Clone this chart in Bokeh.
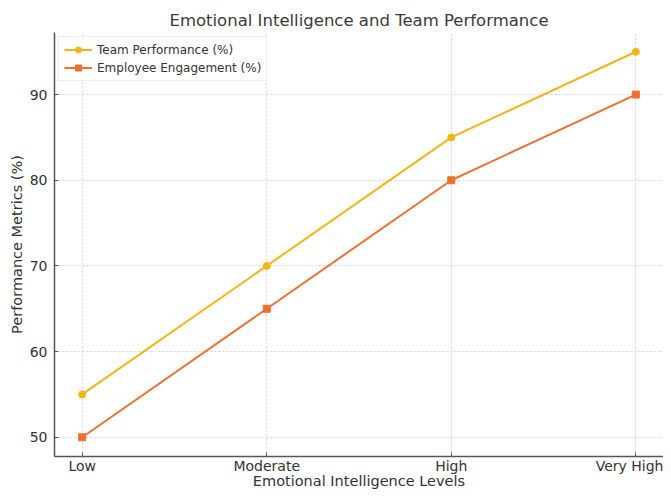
from bokeh.plotting import figure
from bokeh.models import Legend, LegendItem, FixedTicker, Range1d
from bokeh.embed import file_html
from bokeh.resources import INLINE

levels = ["Low", "Moderate", "High", "Very High"]
team_performance = [55, 70, 85, 95]
employee_engagement = [50, 65, 80, 90]
y_ticks = [50, 60, 70, 80, 90]

FONT = "DejaVu Sans"
C1 = "#F5B316"
C2 = "#EE7031"

p = figure(x_range=levels, y_range=Range1d(47.75, 97.25), width=663, height=491,
           output_backend="svg", toolbar_location=None,
           min_border_left=54, min_border_right=0, min_border_top=32, min_border_bottom=20)
p.x_range.range_padding = -0.35
p.x_range.range_padding_units = "absolute"

p.title.text = "Emotional Intelligence and Team Performance"
p.title.align = "center"
p.title.text_font = FONT
p.title.text_font_size = "16.5px"
p.title.text_font_style = "normal"
p.title.text_color = "#3a3a3a"
p.title.offset = 0
p.title.standoff = 5

p.outline_line_color = None
for ax in (p.xaxis[0], p.yaxis[0]):
    ax.axis_line_color = "#555555"
    ax.axis_line_width = 1.5
    ax.major_tick_in = 4
    ax.major_tick_out = 0
    ax.major_tick_line_color = "#555555"
    ax.minor_tick_line_color = None
    ax.major_label_text_font = FONT
    ax.major_label_text_font_size = "14px"
    ax.major_label_text_color = "#333333"
    ax.axis_label_text_font = FONT
    ax.axis_label_text_font_size = "14.5px"
    ax.axis_label_text_font_style = "normal"
    ax.axis_label_text_color = "#333333"

p.yaxis.ticker = FixedTicker(ticks=y_ticks)
p.xaxis.axis_label = "Emotional Intelligence Levels"
p.yaxis.axis_label = "Performance Metrics (%)"
p.xaxis.major_label_standoff = 1
p.xaxis.axis_label_standoff = -4
p.yaxis.major_label_standoff = 7
p.yaxis.axis_label_standoff = 2

p.grid.grid_line_color = "#d4d4d4"
p.grid.grid_line_dash = "2 2"
p.grid.grid_line_width = 1

l1 = p.line(levels, team_performance, line_color=C1, line_width=2)
s1 = p.scatter(levels, team_performance, marker="circle", size=7, fill_color=C1, line_color=C1)
l2 = p.line(levels, employee_engagement, line_color=C2, line_width=2)
s2 = p.scatter(levels, employee_engagement, marker="square", size=7, fill_color=C2, line_color=C2)

legend = Legend(items=[LegendItem(label="Team Performance (%)", renderers=[l1, s1]),
                       LegendItem(label="Employee Engagement (%)", renderers=[l2, s2])],
                location="top_left")
legend.label_text_font = FONT
legend.label_text_font_size = "12px"
legend.label_text_color = "#333333"
legend.glyph_width = 28
legend.glyph_height = 15
legend.label_height = 15
legend.spacing = 3
legend.padding = 5
legend.margin = 4
legend.border_line_color = "#dddddd"
legend.border_line_width = 1
legend.background_fill_alpha = 0.85
p.add_layout(legend)

open("out.html", "w").write(file_html(p, INLINE))
